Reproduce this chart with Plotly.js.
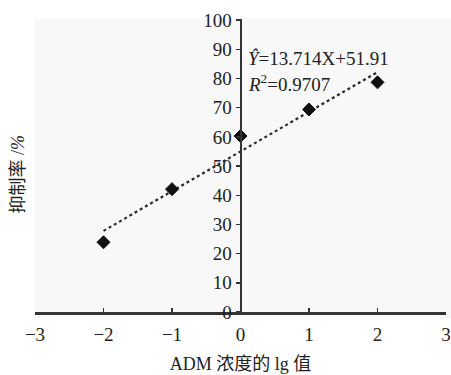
<!DOCTYPE html>
<html>
<head>
<meta charset="utf-8">
<script src="https://cdn.plot.ly/plotly-3.0.1.min.js"></script>
<style>html,body{margin:0;padding:0;background:#fff;}#chart{width:451px;height:375px;}</style>
</head>
<body>
<div id="chart"></div>
<script>
// Data
const lgConc = [-2, -1, 0, 1, 2];
const inhibition = [23.9, 42.1, 60.3, 69.4, 78.7];
const trendX = [-2, 2];
const trendY = [27.8, 82.2];
const xTicks = [-3, -2, -1, 0, 1, 2, 3];
const yTicks = [0, 10, 20, 30, 40, 50, 60, 70, 80, 90, 100];
const eqText = '<i>Ŷ</i>=13.714X+51.91';
const r2Text = '<i>R</i><sup>2</sup>=0.9707';
const xTitle = 'ADM 浓度的 lg 值';
const yTitle = '抑制率 /<i>%</i>';

const serif = 'Liberation Serif, Noto Sans CJK SC, serif';
const axisColor = '#333333';

const traces = [
  {
    x: trendX, y: trendY, mode: 'lines', type: 'scatter',
    line: {color: '#2a2a2a', width: 2.2, dash: 'dot'},
    hoverinfo: 'skip', showlegend: false
  },
  {
    x: lgConc, y: inhibition, mode: 'markers', type: 'scatter',
    marker: {symbol: 'diamond', size: 10, color: '#111111',
             line: {color: '#111111', width: 1}},
    showlegend: false
  }
];

const layout = {
  width: 451, height: 375,
  margin: {l: 35, r: 5, t: 19, b: 63},
  paper_bgcolor: '#ffffff',
  plot_bgcolor: '#f8f8f8',
  font: {family: serif, size: 18, color: '#222222'},
  showlegend: false,
  xaxis: {
    range: [-3, 3],
    tickvals: xTicks,
    ticktext: xTicks.map(v => v < 0 ? '\u2212' + Math.abs(v) : String(v)),
    showgrid: false, zeroline: false,
    showline: true, linecolor: axisColor, linewidth: 2.5,
    ticks: 'inside', ticklen: 4, tickwidth: 1.5, tickcolor: axisColor,
    tickfont: {family: serif, size: 19, color: '#222222'},
    ticklabelstandoff: 4,
    ticklabeloverflow: 'allow',
    title: {text: xTitle, font: {family: serif, size: 18, color: '#222222'}, standoff: 13},
    fixedrange: true
  },
  yaxis: {
    range: [0, 100.4],
    tickvals: yTicks,
    showgrid: false, zeroline: false,
    showline: true, linecolor: axisColor, linewidth: 2,
    anchor: 'free', position: 0.5,
    ticks: 'outside', ticklen: 4, tickwidth: 1.5, tickcolor: axisColor,
    tickfont: {family: serif, size: 19, color: '#222222'},
    ticklabelstandoff: 0,
    ticklabeloverflow: 'allow',
    fixedrange: true
  },
  annotations: [
    {xref: 'paper', yref: 'paper', x: -0.07, y: 0.47, text: yTitle, textangle: -90,
     showarrow: false, font: {family: serif, size: 18, color: '#222222'}},
    {xref: 'x', yref: 'y', x: 0.08, y: 86.7, xanchor: 'left', yanchor: 'middle',
     text: eqText, showarrow: false, font: {family: serif, size: 19, color: '#222222'}},
    {xref: 'x', yref: 'y', x: 0.08, y: 78.5, xanchor: 'left', yanchor: 'middle',
     text: r2Text, showarrow: false, font: {family: serif, size: 19, color: '#222222'}}
  ],
  shapes: [
    {type: 'rect', xref: 'paper', yref: 'paper', x0: 0, x1: 1.012, y0: -0.025, y1: 0,
     fillcolor: '#f8f8f8', line: {width: 0}, layer: 'below'},
    {type: 'rect', xref: 'paper', yref: 'paper', x0: 1, x1: 1.012, y0: 0, y1: 1,
     fillcolor: '#f8f8f8', line: {width: 0}, layer: 'below'}
  ]
};

Plotly.newPlot('chart', traces, layout, {displayModeBar: false, staticPlot: true});
</script>
</body>
</html>
